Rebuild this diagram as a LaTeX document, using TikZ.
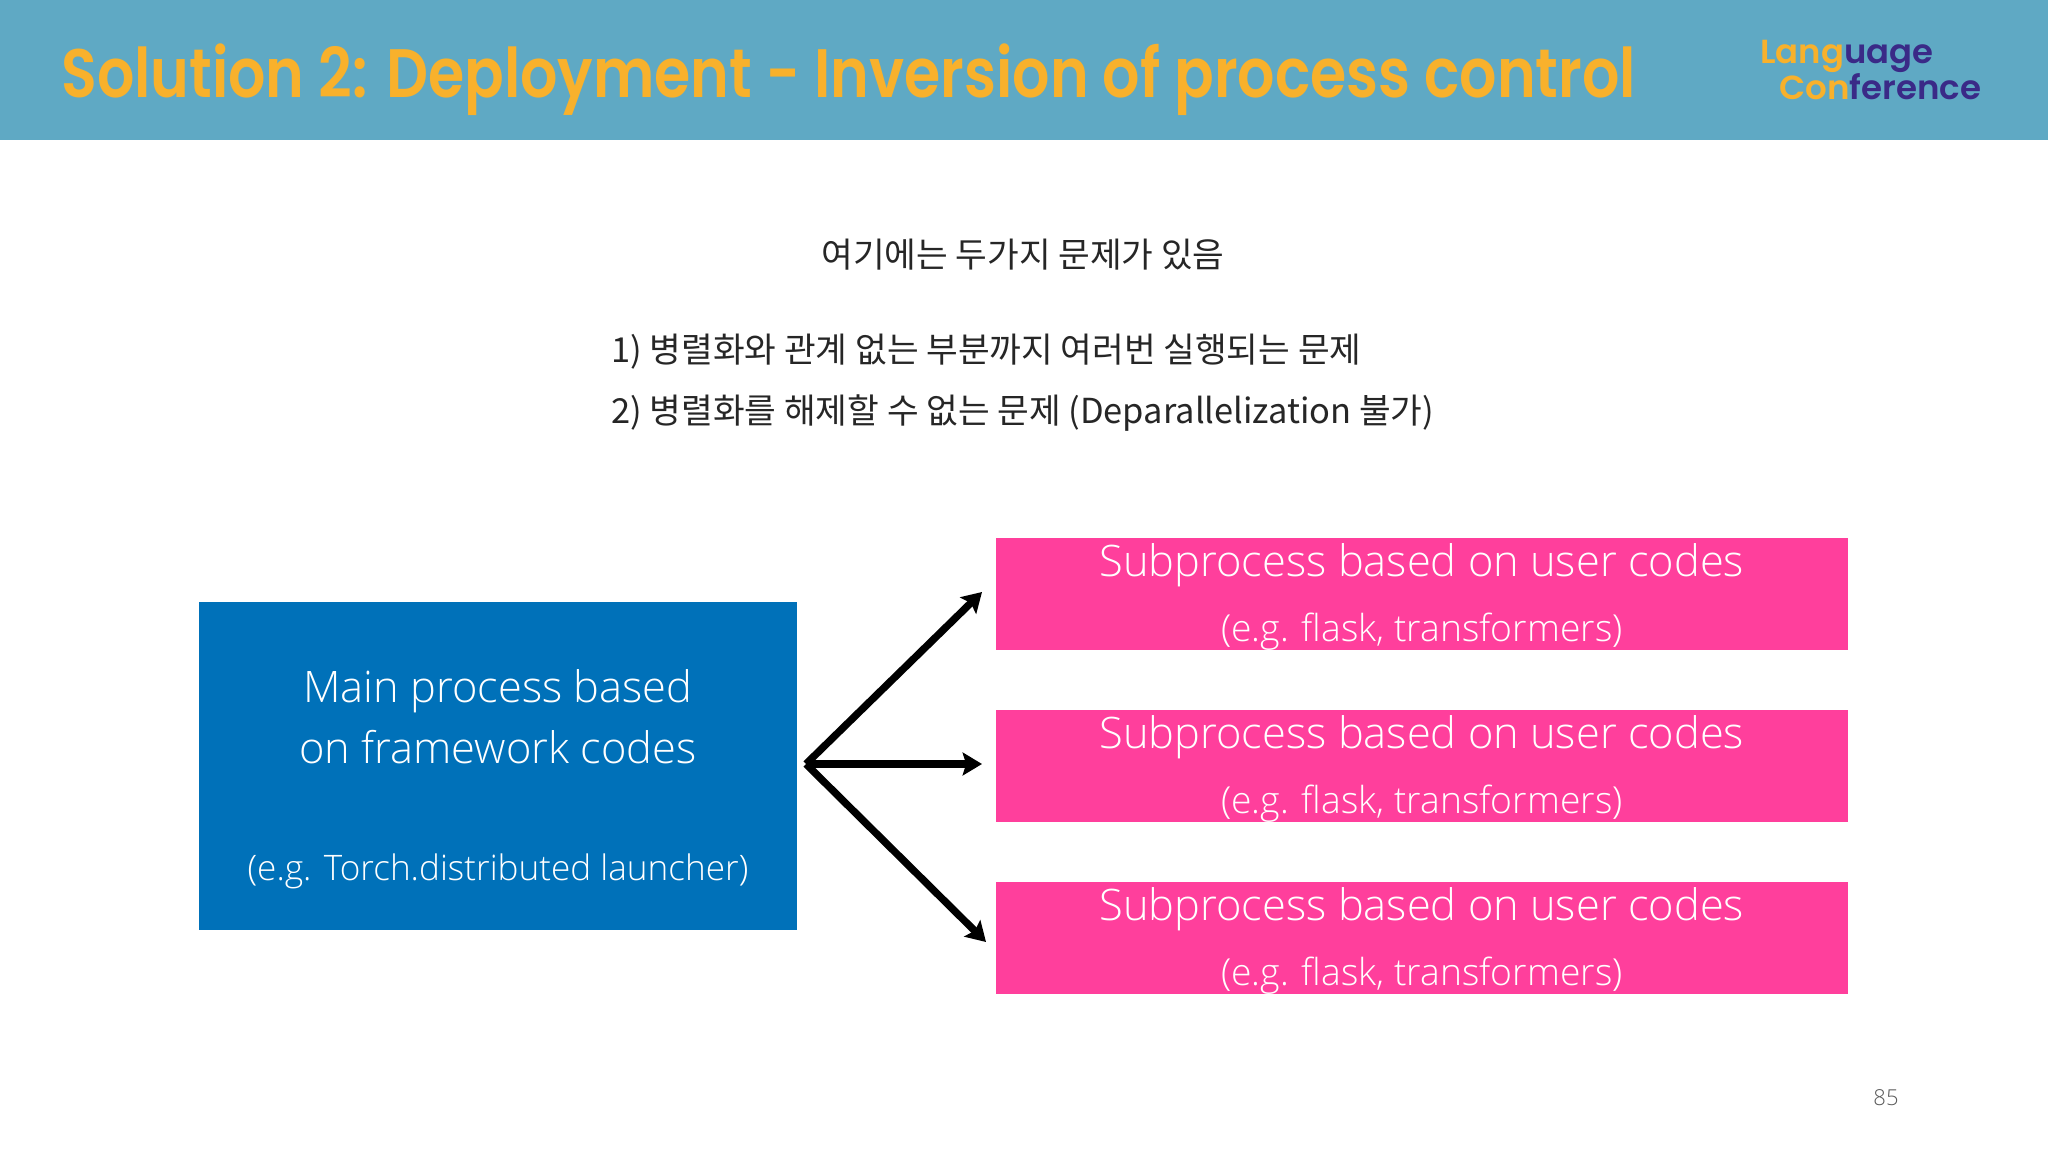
\documentclass[tikz,border=0pt]{standalone}
\usepackage{fontspec}
\usepackage{graphicx}
\setmainfont{Open Sans Light}
\newfontfamily\krfont{Noto Sans CJK KR}
\newfontfamily\titlefont{Poppins}[BoldFont=* SemiBold]
\usetikzlibrary{arrows.meta}
\definecolor{headerblue}{HTML}{5FA9C4}
\definecolor{titleyellow}{HTML}{F8B12C}
\definecolor{logopurple}{HTML}{3A2A87}
\definecolor{mainblue}{HTML}{0071B9}
\definecolor{subpink}{HTML}{FF3F9C}
\tikzset{
  titletext/.style = {anchor=west, inner sep=0pt, text=titleyellow, font=\titlefont\bfseries\fontsize{39}{44}\selectfont},
  logotext/.style = {anchor=west, inner sep=0pt, text=titleyellow, font=\titlefont\bfseries\fontsize{19}{22}\selectfont},
  noticetext/.style = {inner sep=0pt, text=black!85, font=\krfont\fontsize{19.6}{34.7}\selectfont},
  mainbox/.style = {rectangle, fill=mainblue, text=white, align=center, inner sep=0pt, minimum width=11.96cm, minimum height=6.56cm, font=\fontsize{24.7}{35}\selectfont},
  subbox/.style = {rectangle, fill=subpink, text=white, align=center, inner sep=0pt, minimum width=17.04cm, minimum height=2.24cm, font=\fontsize{24.7}{37}\selectfont},
  fork/.style = {line width=4.2pt, -{Stealth[length=11pt, width=13pt, inset=2pt]}}
}
\newcommand{\subtext}{\rule{0pt}{22pt}Subprocess based on user codes\\{\fontsize{21.2}{37}\selectfont (e.g. flask, transformers)}}
\begin{document}
\begin{tikzpicture}[x=0.02cm, y=-0.02cm, grow=right, level distance=18.48cm, sibling distance=3.44cm, edge from parent/.style={draw=none}]
    \useasboundingbox (0,0) rectangle (2048,1152);
    \node[rectangle, fill=headerblue, inner sep=0pt, minimum width=40.96cm, minimum height=2.8cm] (header) at (1024,70) {};
    \node[titletext] (title) at (61,80) {\resizebox{31.5cm}{\height}{Solution 2: Deployment - Inversion of process control}};
    \node[logotext] (logoA) at (1760,56) {\resizebox{3.46cm}{\height}{Lang\textcolor{logopurple}{uage}}};
    \node[logotext] (logoB) at (1779,87) {\resizebox{4.04cm}{\height}{Con\textcolor{logopurple}{ference}}};

    \node[noticetext] (notice) at (1023,255) {여기에는 두가지 문제가 있음};
    \node[noticetext, anchor=west, align=left] (problems) at (611,383) {1) 병렬화와 관계 없는 부분까지 여러번 실행되는 문제\\2) 병렬화를 해제할 수 없는 문제 (Deparallelization 불가)};

    \node[mainbox] (main) at (498,766) {\rule{0pt}{34pt}Main process based\\on framework codes\\[31.5pt]{\fontsize{20}{35}\selectfont (e.g. Torch.distributed launcher)}}
    	child{ node[subbox] (subC) {\subtext}}
    	child{ node[subbox] (subB) {\subtext}}
    	child{ node[subbox] (subA) {\subtext}};

    \coordinate (forkstart) at (806,764);
    \coordinate (endA) at (982,592);
    \coordinate (endB) at (982,764);
    \coordinate (endC) at (986,942);
    \draw[fork] (forkstart) -- (endA);
    \draw[fork] (forkstart) -- (endB);
    \draw[fork] (forkstart) -- (endC);

    \node[inner sep=0pt, text=black!65, font=\fontsize{12.5}{15}\selectfont] (pagenum) at (1886,1098) {85};
\end{tikzpicture}
\end{document}
